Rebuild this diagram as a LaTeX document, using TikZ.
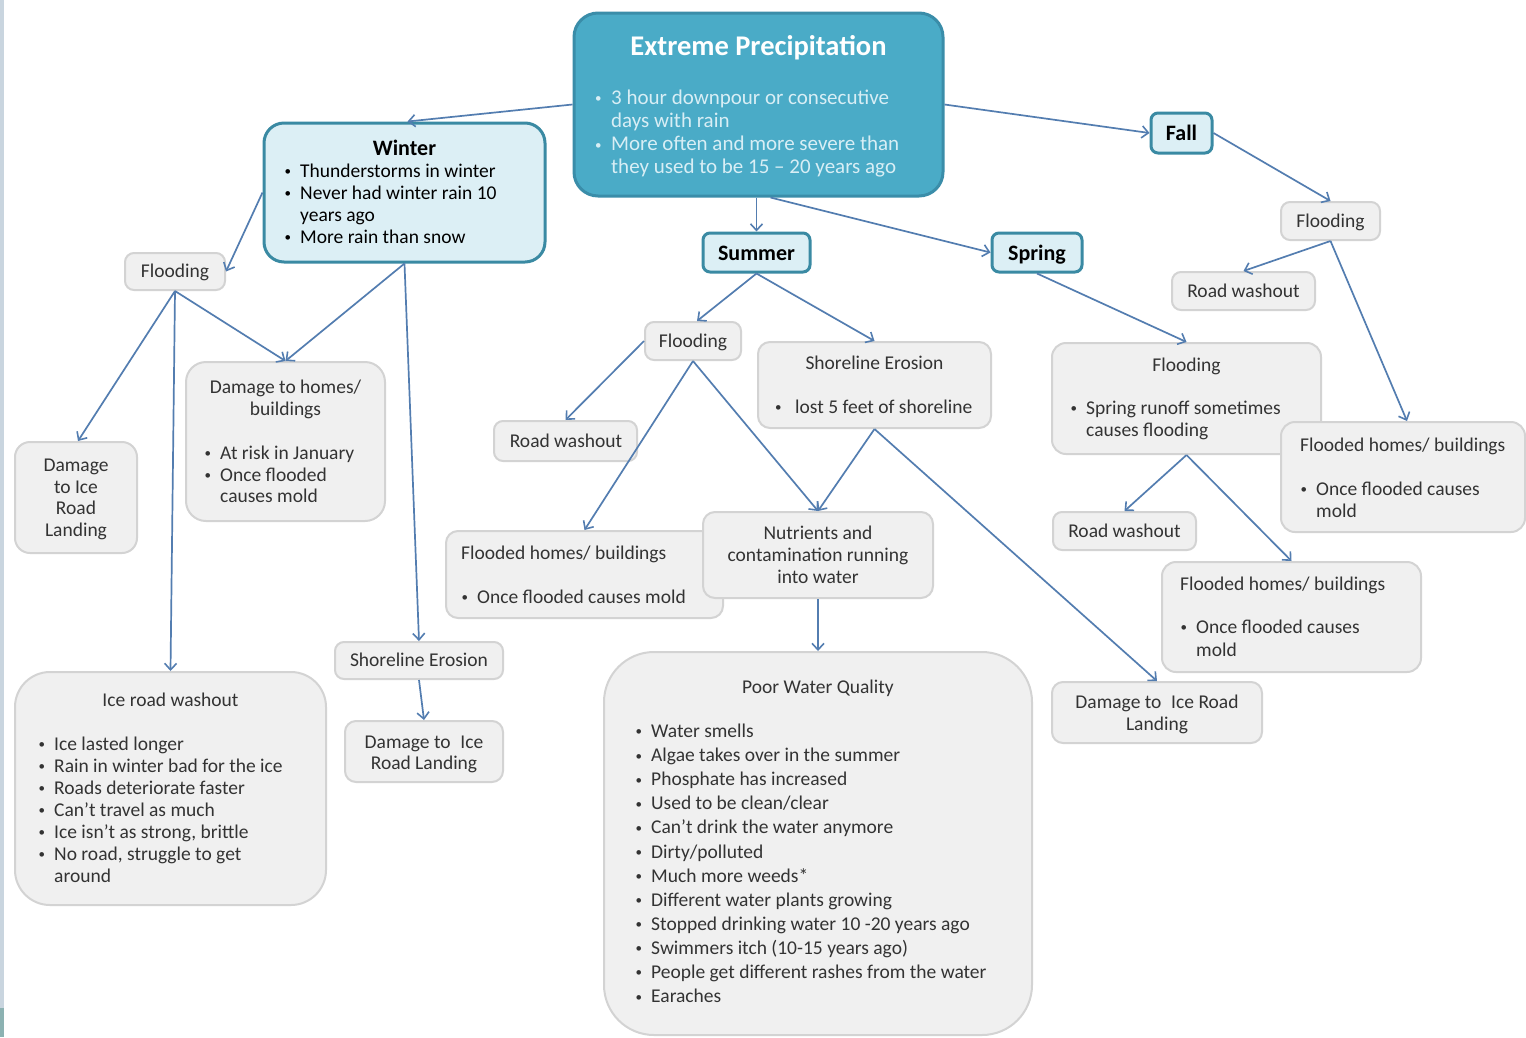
\documentclass[tikz,border=0pt]{standalone}
\usepackage{fontspec}
\setmainfont{Carlito}
\usetikzlibrary{arrows.meta}
\definecolor{epfill}{HTML}{4AABC7}
\definecolor{epborder}{HTML}{3A8DA9}
\definecolor{eptext}{HTML}{D8EEF5}
\definecolor{sfill}{HTML}{DCEFF5}
\definecolor{sborder}{HTML}{3A8AA3}
\definecolor{gfill}{HTML}{F0F0F0}
\definecolor{gborder}{HTML}{D3D3D3}
\definecolor{txtc}{HTML}{333333}
\definecolor{arrowc}{HTML}{537DB0}
\definecolor{bandc}{HTML}{C9D5DF}
\definecolor{bandd}{HTML}{8CB2B2}
\newcommand\fsz[2]{\fontsize{#1}{#2}\selectfont}
\newcommand\bdot{\raisebox{1.6pt}{\fontsize{13}{13}\selectfont\textbullet}}
\newcommand\blt{\llap{\bdot\hspace{9pt}}}
\newcommand\bltg[1]{\llap{\bdot\hspace{#1}}}
\begin{document}
\begin{tikzpicture}[x=1pt,y=-1pt,
  gbox/.style={draw=gborder, fill=gfill, line width=2pt, rounded corners=9pt, inner sep=0pt},
  sbox/.style={draw=sborder, fill=sfill, line width=3pt, rounded corners=7pt, inner sep=0pt},
  epbox/.style={draw=epborder, fill=epfill, line width=3pt, rounded corners=24pt, inner sep=0pt},
  tx/.style={inner sep=0pt, text=txtc, font=\fsz{19.5}{22}},
  ttl/.style={inner sep=0pt, text=black, font=\fsz{22}{26}\bfseries},
  arr/.style={draw=arrowc, line width=1.7pt, -{Straight Barb[length=6.5pt,width=12pt,line width=1.6pt]}}
]
\useasboundingbox (0,0) rectangle (1526,1037);
\fill[white] (0,0) rectangle (1526,1037);
\fill[bandc] (0,0) rectangle (3.5,1008);
\fill[bandd] (0,1008) rectangle (3.5,1037);

% ---------- boxes ----------
\node[epbox, minimum width=369pt, minimum height=183pt] (ep) at (758.5,104.5) {};
\node[sbox, rounded corners=20pt, minimum width=281pt, minimum height=139pt] (winter) at (404.5,192.5) {};
\node[sbox, minimum width=61pt, minimum height=40pt] (fall) at (1181.5,133) {};
\node[sbox, minimum width=107pt, minimum height=39pt] (summer) at (756.5,252.5) {};
\node[sbox, minimum width=90pt, minimum height=39pt] (spring) at (1037,252.5) {};

\node[gbox, minimum width=100pt, minimum height=37pt] (wfl) at (175,271.5) {};
\node[gbox, rounded corners=15pt, minimum width=122pt, minimum height=111pt] (wdice) at (76,497.5) {};
\node[gbox, rounded corners=20pt, minimum width=199pt, minimum height=159pt] (whomes) at (285.5,441.5) {};
\node[gbox, rounded corners=35pt, minimum width=311pt, minimum height=233pt] (wice) at (170.5,788.5) {};
\node[gbox, minimum width=168pt, minimum height=37pt] (wshore) at (419,660.5) {};
\node[gbox, rounded corners=11pt, minimum width=158pt, minimum height=61pt] (wdice2) at (424,751.5) {};

\node[gbox, minimum width=96pt, minimum height=38pt] (sfl) at (693,341) {};
\node[gbox, rounded corners=12pt, minimum width=233pt, minimum height=86pt] (sshore) at (874.5,385) {};
\node[gbox, minimum width=143pt, minimum height=40pt] (sroad) at (565.5,441) {};
\node[gbox, rounded corners=12pt, minimum width=277pt, minimum height=87pt] (sflooded) at (584.5,574.5) {};
\node[gbox, rounded corners=12pt, minimum width=230pt, minimum height=86pt] (snut) at (818,555) {};
\node[gbox, rounded corners=50pt, minimum width=428pt, minimum height=383pt] (spoor) at (818,843.5) {};

\node[gbox, rounded corners=14pt, minimum width=269pt, minimum height=111pt] (spfl) at (1186.5,398.5) {};
\node[gbox, minimum width=143pt, minimum height=38pt] (sproad) at (1124.5,531) {};
\node[gbox, rounded corners=14pt, minimum width=259pt, minimum height=110pt] (spflooded) at (1291.5,617) {};
\node[gbox, rounded corners=11pt, minimum width=210pt, minimum height=61pt] (dice3) at (1157,712.5) {};

\node[gbox, minimum width=99pt, minimum height=38pt] (ffl) at (1330.5,221) {};
\node[gbox, minimum width=143pt, minimum height=38pt] (froad) at (1243.5,291) {};
\node[gbox, rounded corners=14pt, minimum width=244pt, minimum height=110pt] (fflooded) at (1403,477) {};

% ---------- texts ----------
\node[inner sep=0pt, text=white, font=\fsz{28.5}{32}\bfseries, anchor=base] (ep-t) at (758.5,55) {Extreme Precipitation};
\node[inner sep=0pt, text=eptext, font=\fsz{21}{23.3}, anchor=base west] (ep-b) at (611,104)
  {\begin{tabular}[t]{@{}l@{}}\bltg{9.5pt}3 hour downpour or consecutive\\days with rain\\\bltg{9.5pt}More  often and more severe than\\they used to be 15 -- 20 years ago\end{tabular}};

\node[ttl, anchor=base] (winter-t) at (404.5,155) {Winter};
\node[tx, text=black, anchor=base west] (winter-b) at (300,177.5)
  {\begin{tabular}[t]{@{}l@{}}\blt Thunderstorms in winter\\\blt Never had winter rain 10\\years ago\\\blt More rain than snow\end{tabular}};
\node[ttl, anchor=base] (fall-t) at (1181.5,140.5) {Fall};
\node[ttl, anchor=base] (summer-t) at (756.5,260) {Summer};
\node[ttl, anchor=base] (spring-t) at (1037,260) {Spring};

\node[tx, anchor=base] (wfl-t) at (175,277.5) {Flooding};
\node[tx, font=\fsz{19.5}{21.7}, anchor=base] (wdice-t) at (76,471.5)
  {\begin{tabular}[t]{@{}c@{}}Damage\\to Ice\\Road\\Landing\end{tabular}};
\node[tx, anchor=base] (whomes-t) at (285.5,393.5)
  {\begin{tabular}[t]{@{}c@{}}Damage to homes/\\buildings\end{tabular}};
\node[tx, font=\fsz{19.5}{21.5}, anchor=base west] (whomes-b) at (220,459.5)
  {\begin{tabular}[t]{@{}l@{}}\blt At risk in January\\\blt Once flooded\\causes mold\end{tabular}};
\node[tx, anchor=base] (wice-t) at (170.5,706) {Ice road washout};
\node[tx, anchor=base west] (wice-b) at (54,750.5)
  {\begin{tabular}[t]{@{}l@{}}\blt Ice lasted longer\\\blt Rain in winter bad for the ice\\\blt Roads deteriorate faster\\\blt Can't travel as much\\\blt Ice isn't as strong, brittle\\\blt No road, struggle to get\\around\end{tabular}};
\node[tx, anchor=base] (wshore-t) at (419,666.5) {Shoreline Erosion};
\node[tx, font=\fsz{19.5}{21}, anchor=base] (wdice2-t) at (424,748.5)
  {\begin{tabular}[t]{@{}c@{}}Damage to\enspace Ice\\Road Landing\end{tabular}};

\node[tx, anchor=base] (sfl-t) at (693,347.5) {Flooding};
\node[tx, anchor=base] (sshore-t) at (874.5,369.5) {Shoreline Erosion};
\node[tx, anchor=base west] (sshore-b) at (795,413.5) {\bltg{13.5pt}lost 5 feet of shoreline};
\node[tx, anchor=base] (sroad-t) at (566,447.5) {Road washout};
\node[tx, anchor=base west] (sflooded-t) at (461,559.5) {Flooded homes/ buildings};
\node[tx, anchor=base west] (sflooded-b) at (477,603.5) {\blt Once flooded causes mold};
\node[tx, anchor=base] (snut-t) at (818,539.5)
  {\begin{tabular}[t]{@{}c@{}}Nutrients and\\contamination running\\into water\end{tabular}};
\node[tx, anchor=base] (spoor-t) at (818,693.5) {Poor Water Quality};
\node[tx, font=\fsz{19.5}{24.1}, anchor=base west] (spoor-b) at (651,737.5)
  {\begin{tabular}[t]{@{}l@{}}\blt Water smells\\\blt Algae takes over in the summer\\\blt Phosphate has increased\\\blt Used to be clean/clear\\\blt Can't drink the water anymore\\\blt Dirty/polluted\\\blt Much more weeds*\\\blt Different water plants growing\\\blt Stopped drinking water 10 -20 years ago\\\blt Swimmers itch (10-15 years ago)\\\blt People get different rashes from the water\\\blt Earaches\end{tabular}};

\node[tx, anchor=base] (spfl-t) at (1186.5,371.5) {Flooding};
\node[tx, anchor=base west] (spfl-b) at (1086,414.5)
  {\begin{tabular}[t]{@{}l@{}}\blt Spring runoff sometimes\\causes flooding\end{tabular}};
\node[tx, anchor=base] (sproad-t) at (1124.5,537.5) {Road washout};
\node[tx, anchor=base west] (spflooded-t) at (1180,590.5) {Flooded homes/ buildings};
\node[tx, font=\fsz{19.5}{23}, anchor=base west] (spflooded-b) at (1196,633.5)
  {\begin{tabular}[t]{@{}l@{}}\blt Once flooded causes\\mold\end{tabular}};
\node[tx, anchor=base] (dice3-t) at (1157,708.5)
  {\begin{tabular}[t]{@{}c@{}}Damage to\enspace Ice Road\\Landing\end{tabular}};

\node[tx, anchor=base] (ffl-t) at (1330.5,227.5) {Flooding};
\node[tx, anchor=base] (froad-t) at (1243.5,297.5) {Road washout};
\node[tx, anchor=base west] (fflooded-t) at (1300,451.5) {Flooded homes/ buildings};
\node[tx, anchor=base west] (fflooded-b) at (1316,495.5)
  {\begin{tabular}[t]{@{}l@{}}\blt Once flooded causes\\mold\end{tabular}};

% ---------- connectors ----------
\draw[arr] (ep.west) -- ([xshift=3pt]winter.north);
\draw[arr] (ep.east) -- (fall.west);
\draw[arr] (ep.south -| summer.north) -- (summer.north);
\draw[arr] ([xshift=12pt]ep.south) -- (spring.west);
\draw[arr] (winter.west) -- (wfl.east);
\draw[arr] (winter.south) -- (whomes.north);
\draw[arr] (winter.south) -- (wshore.north);
\draw[arr] (wfl.south) -- ([xshift=2pt]wdice.north);
\draw[arr] (wfl.south) -- (whomes.north);
\draw[arr] (wfl.south) -- (wice.north);
\draw[arr] (wshore.south) -- (wdice2.north);
\draw[arr] (summer.south) -- ([xshift=4pt]sfl.north);
\draw[arr] (summer.south) -- (sshore.north);
\draw[arr] (sfl.west) -- (sroad.north);
\draw[arr] (sfl.south) -- (sflooded.north);
\draw[arr] (sfl.south) -- (snut.north);
\draw[arr] (sshore.south) -- (snut.north);
\draw[arr] (sshore.south) -- (dice3.north);
\draw[arr] (snut.south) -- (spoor.north);
\draw[arr] (spring.south) -- (spfl.north);
\draw[arr] (spfl.south) -- (sproad.north);
\draw[arr] (spfl.south) -- (spflooded.north);
\draw[arr] (fall.east) -- (ffl.north);
\draw[arr] (ffl.south) -- (froad.north);
\draw[arr] (ffl.south) -- ([xshift=4pt]fflooded.north);
\end{tikzpicture}
\end{document}
